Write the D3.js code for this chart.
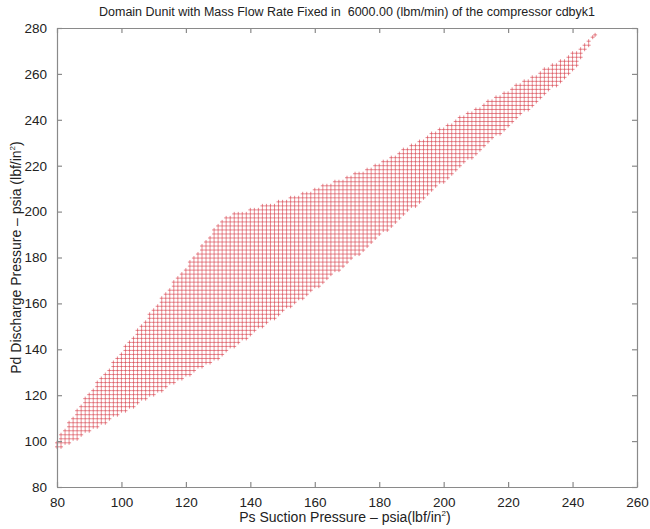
<!DOCTYPE html>
<html lang="en">
<head>
<meta charset="UTF-8">
<title>Domain Dunit</title>
<script src="https://d3js.org/d3.v7.min.js"></script>
<style>
  body { margin: 0; background: #fff; }
  text { font-family: "Liberation Sans", Arial, sans-serif; fill: #222; white-space: pre; }
</style>
</head>
<body>
<script>
// suction pressure (Ps) break points and domain edges
const psEdge  = [80, 85, 90, 100, 110, 120, 128, 132, 140, 150, 160, 170, 180, 190, 200, 210, 220, 230, 240, 247];
const pdLower = [96, 100, 104, 112, 120, 128, 134, 138, 146, 156, 166, 177, 189, 201, 213, 225, 237, 249, 261, 276];
const pdUpper = [100, 111, 121, 139, 158, 176, 191, 198, 201, 205, 210, 215, 221, 229, 237, 245, 253, 261, 269, 277];
// grid the domain was sampled on
const psStep = 1.25;
const pdStep = 1.75;

const xTicks = [80, 100, 120, 140, 160, 180, 200, 220, 240, 260];
const yTicks = [80, 100, 120, 140, 160, 180, 200, 220, 240, 260, 280];

const width = 650, height = 529;
const margin = { top: 28, right: 13, bottom: 42, left: 57 };

const svg = d3.select('body').append('svg')
  .attr('width', width)
  .attr('height', height);

const x = d3.scaleLinear().domain([80, 260]).range([margin.left, width - margin.right]);
const y = d3.scaleLinear().domain([80, 280]).range([height - margin.bottom, margin.top]);

// edges as piecewise linear functions of Ps
const lowAt = d3.scaleLinear().domain(psEdge).range(pdLower);
const upAt = d3.scaleLinear().domain(psEdge).range(pdUpper);

const pts = [];
for (let ps = psEdge[0]; ps <= psEdge[psEdge.length - 1] + 1e-9; ps += psStep) {
  const lo = lowAt(ps), hi = upAt(ps);
  for (let pd = 80; pd <= 280; pd += pdStep) {
    if (pd >= lo && pd <= hi) pts.push([ps, pd]);
  }
}
// end point at the tip
pts.push([psEdge[psEdge.length - 1], pdUpper[pdUpper.length - 1]]);

const s = 2;
svg.append('g')
  .attr('stroke', '#d8404c')
  .attr('stroke-width', 0.8)
  .attr('stroke-opacity', 0.8)
  .selectAll('path')
  .data(pts)
  .join('path')
  .attr('d', d => {
    const px = x(d[0]), py = y(d[1]);
    return `M${px - s},${py}H${px + s}M${px},${py - s}V${py + s}`;
  });

// axes, MATLAB style: box with inward ticks
const axColor = '#8a8a8a';
const xAxis = svg.append('g')
  .attr('transform', `translate(0,${height - margin.bottom})`)
  .call(d3.axisBottom(x).tickValues(xTicks).tickSizeInner(-5).tickSizeOuter(0).tickPadding(10));
const xTop = svg.append('g')
  .attr('transform', `translate(0,${margin.top})`)
  .call(d3.axisTop(x).tickValues(xTicks).tickSizeInner(-5).tickSizeOuter(0).tickFormat(''));
const yAxis = svg.append('g')
  .attr('transform', `translate(${margin.left},0)`)
  .call(d3.axisLeft(y).tickValues(yTicks).tickSizeInner(-5).tickSizeOuter(0).tickPadding(10));
const yRight = svg.append('g')
  .attr('transform', `translate(${width - margin.right},0)`)
  .call(d3.axisRight(y).tickValues(yTicks).tickSizeInner(-5).tickSizeOuter(0).tickFormat(''));

[xAxis, xTop, yAxis, yRight].forEach(g => {
  g.selectAll('path, line').attr('stroke', axColor).attr('stroke-width', 1.2);
  g.selectAll('text').attr('font-size', 13.5).attr('fill', '#222')
    .attr('font-family', '"Liberation Sans", Arial, sans-serif');
});

svg.append('text')
  .attr('x', 347).attr('y', 16)
  .attr('text-anchor', 'middle')
  .attr('font-size', 12.5)
  .text('Domain Dunit with Mass Flow Rate Fixed in  6000.00 (lbm/min) of the compressor cdbyk1');

const xl = svg.append('text')
  .attr('x', 345).attr('y', 522)
  .attr('text-anchor', 'middle')
  .attr('font-size', 14);
xl.append('tspan').text('Ps Suction Pressure \u2013 psia(lbf/in');
xl.append('tspan').attr('font-size', 8).attr('dy', -6).text('2');
xl.append('tspan').attr('dy', 6).text(')');

const yl = svg.append('text')
  .attr('transform', `translate(21,${(margin.top + height - margin.bottom) / 2}) rotate(-90)`)
  .attr('text-anchor', 'middle')
  .attr('font-size', 14);
yl.append('tspan').text('Pd Discharge Pressure \u2013 psia (lbf/in');
yl.append('tspan').attr('font-size', 8).attr('dy', -6).text('2');
yl.append('tspan').attr('dy', 6).text(')');
</script>
</body>
</html>
